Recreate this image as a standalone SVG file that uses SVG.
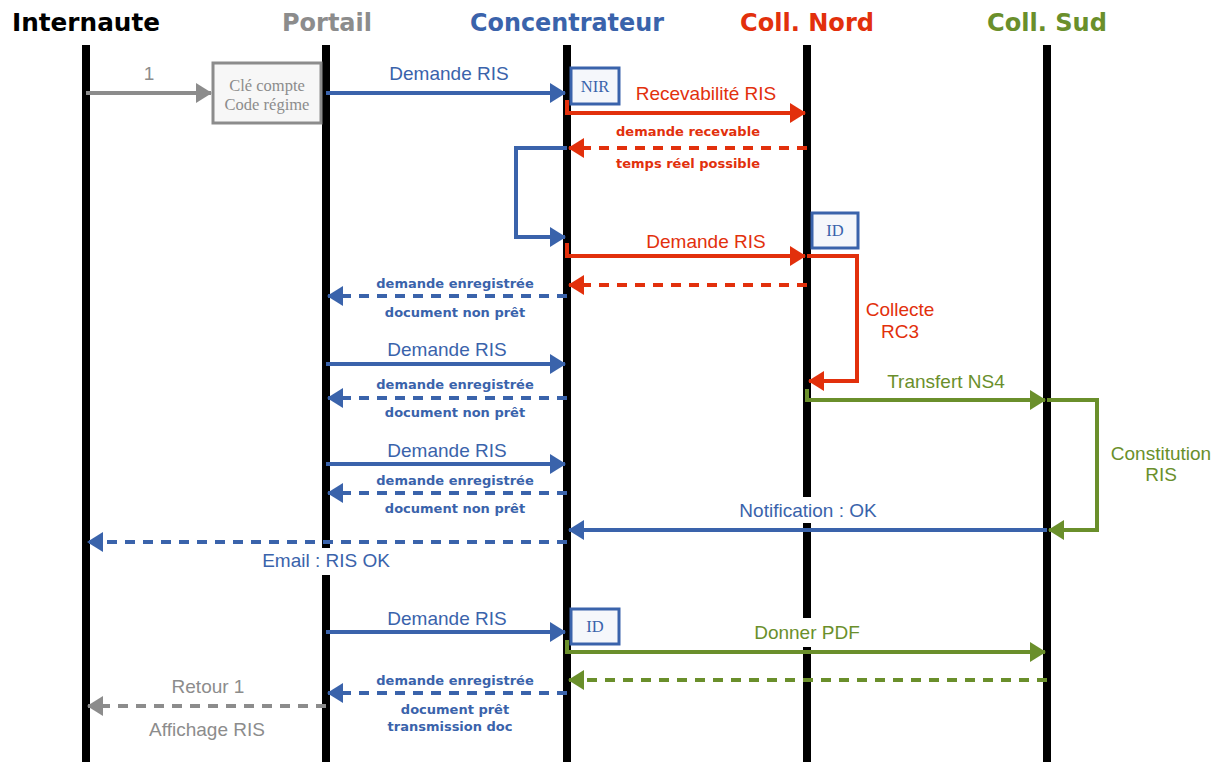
<svg xmlns="http://www.w3.org/2000/svg" width="1225" height="762" viewBox="0 0 1225 762">
<style>
.hdr{font-family:"DejaVu Sans","Verdana",sans-serif;font-weight:bold;font-size:25px;text-anchor:middle}
.lbl{font-family:"Liberation Sans","Arial",sans-serif;font-size:19px;text-anchor:middle}
.sm{font-family:"DejaVu Sans","Verdana",sans-serif;font-weight:bold;font-size:13px;text-anchor:middle}
.ser{font-family:"Liberation Serif","Times New Roman",serif;font-size:16.5px;text-anchor:middle}
.life{stroke:#000;stroke-width:8}
.c{fill:none;stroke-width:4}
.d{stroke-dasharray:10 8}
.blue{stroke:#3a63ab}.red{stroke:#e2300c}.green{stroke:#6a8f2b}.gray{stroke:#8c8c8c}
.tb{fill:#3a63ab}.tr{fill:#e2300c}.tg{fill:#6a8f2b}.tgr{fill:#8c8c8c}
.box{fill:#f5f7fb;stroke:#3a63ab;stroke-width:3}
</style>
<defs>
<marker id="ab" markerUnits="userSpaceOnUse" markerWidth="16" markerHeight="20" refX="15" refY="10" orient="auto"><path d="M0,0 L16,10 L0,20 z" fill="#3a63ab"/></marker>
<marker id="ar" markerUnits="userSpaceOnUse" markerWidth="16" markerHeight="20" refX="15" refY="10" orient="auto"><path d="M0,0 L16,10 L0,20 z" fill="#e2300c"/></marker>
<marker id="ag" markerUnits="userSpaceOnUse" markerWidth="16" markerHeight="20" refX="15" refY="10" orient="auto"><path d="M0,0 L16,10 L0,20 z" fill="#6a8f2b"/></marker>
<marker id="agr" markerUnits="userSpaceOnUse" markerWidth="16" markerHeight="20" refX="15" refY="10" orient="auto"><path d="M0,0 L16,10 L0,20 z" fill="#8c8c8c"/></marker>
</defs>
<rect width="1225" height="762" fill="#fff"/>

<g id="internaute"><text class="hdr" x="86" y="31" fill="#000" textLength="148" lengthAdjust="spacingAndGlyphs">Internaute</text><line class="life" x1="86" y1="45" x2="86" y2="762"/></g>
<g id="portail"><text class="hdr" x="327" y="31" fill="#8c8c8c" textLength="90" lengthAdjust="spacingAndGlyphs">Portail</text><line class="life" x1="326" y1="45" x2="326" y2="762"/></g>
<g id="concentrateur"><text class="hdr" x="567" y="31" fill="#3a63ab" textLength="194" lengthAdjust="spacingAndGlyphs">Concentrateur</text><line class="life" x1="567" y1="45" x2="567" y2="762"/></g>
<g id="collnord"><text class="hdr" x="807" y="31" fill="#e2300c" textLength="134" lengthAdjust="spacingAndGlyphs">Coll. Nord</text><line class="life" x1="807" y1="45" x2="807" y2="762"/></g>
<g id="collsud"><text class="hdr" x="1047" y="31" fill="#6a8f2b" textLength="120" lengthAdjust="spacingAndGlyphs">Coll. Sud</text><line class="life" x1="1047" y1="45" x2="1047" y2="762"/></g>

<!-- label backgrounds that break lifelines -->
<rect x="250" y="548" width="150" height="27" fill="#fff"/>
<rect x="728" y="497" width="160" height="26" fill="#fff"/>
<rect x="750" y="618" width="115" height="29" fill="#fff"/>

<g id="cleCompte"><rect x="213" y="63" width="108" height="60" fill="#f7f7f7" stroke="#8c8c8c" stroke-width="3"/><text class="ser" x="267" y="91" fill="#8c8c8c">Clé compte</text><text class="ser" x="267" y="110" fill="#8c8c8c">Code régime</text></g>
<g id="nir"><rect class="box" x="571" y="68" width="48" height="36"/><text class="ser" x="595" y="92" fill="#3a63ab">NIR</text></g>
<g id="id1"><rect class="box" x="812" y="213" width="46" height="35"/><text class="ser" x="835" y="236" fill="#3a63ab">ID</text></g>
<g id="id2"><rect class="box" x="571" y="609" width="48" height="35"/><text class="ser" x="595" y="632" fill="#3a63ab">ID</text></g>

<g id="connectors">
<line class="c gray" x1="86" y1="93" x2="211" y2="93" marker-end="url(#agr)"/>
<line class="c blue" x1="326" y1="93" x2="565" y2="93" marker-end="url(#ab)"/>
<path class="c red" d="M567,100 V113 H805" marker-end="url(#ar)"/>
<line class="c red d" x1="807" y1="148" x2="569" y2="148" marker-end="url(#ar)"/>
<path class="c blue" d="M567,148 H516 V237 H565" marker-end="url(#ab)"/>
<path class="c red" d="M567,243 V256 H805" marker-end="url(#ar)"/>
<path class="c red" d="M807,256 H857 V381 H809" marker-end="url(#ar)"/>
<line class="c red d" x1="807" y1="285" x2="569" y2="285" marker-end="url(#ar)"/>
<line class="c blue d" x1="567" y1="296" x2="328" y2="296" marker-end="url(#ab)"/>
<line class="c blue" x1="326" y1="364" x2="565" y2="364" marker-end="url(#ab)"/>
<line class="c blue d" x1="567" y1="398" x2="328" y2="398" marker-end="url(#ab)"/>
<path class="c green" d="M807,389 V400 H1045" marker-end="url(#ag)"/>
<path class="c green" d="M1047,400 H1097 V530 H1049" marker-end="url(#ag)"/>
<line class="c blue" x1="326" y1="464" x2="565" y2="464" marker-end="url(#ab)"/>
<line class="c blue d" x1="567" y1="493" x2="328" y2="493" marker-end="url(#ab)"/>
<line class="c blue" x1="1047" y1="530" x2="569" y2="530" marker-end="url(#ab)"/>
<line class="c blue d" x1="567" y1="542" x2="88" y2="542" marker-end="url(#ab)"/>
<line class="c blue" x1="326" y1="632" x2="565" y2="632" marker-end="url(#ab)"/>
<path class="c green" d="M567,640 V652 H1045" marker-end="url(#ag)"/>
<line class="c green d" x1="1047" y1="680" x2="569" y2="680" marker-end="url(#ag)"/>
<line class="c blue d" x1="567" y1="693" x2="328" y2="693" marker-end="url(#ab)"/>
<line class="c gray d" x1="326" y1="706" x2="88" y2="706" marker-end="url(#agr)"/>
</g>

<g id="labels">
<text class="lbl tgr" x="149" y="80">1</text>
<text class="lbl tb" x="449" y="80">Demande RIS</text>
<text class="lbl tr" x="706" y="100">Recevabilité RIS</text>
<text class="sm tr" x="688" y="136">demande recevable</text>
<text class="sm tr" x="688" y="168">temps réel possible</text>
<text class="lbl tr" x="706" y="248">Demande RIS</text>
<text class="lbl tr" x="900" y="316">Collecte</text>
<text class="lbl tr" x="900" y="338">RC3</text>
<text class="sm tb" x="455" y="288">demande enregistrée</text>
<text class="sm tb" x="455" y="317">document non prêt</text>
<text class="lbl tb" x="447" y="356">Demande RIS</text>
<text class="sm tb" x="455" y="389">demande enregistrée</text>
<text class="sm tb" x="455" y="417">document non prêt</text>
<text class="lbl tg" x="946" y="388">Transfert NS4</text>
<text class="lbl tg" x="1161" y="460">Constitution</text>
<text class="lbl tg" x="1161" y="481">RIS</text>
<text class="lbl tb" x="447" y="457">Demande RIS</text>
<text class="sm tb" x="455" y="485">demande enregistrée</text>
<text class="sm tb" x="455" y="513">document non prêt</text>
<text class="lbl tb" x="808" y="517">Notification : OK</text>
<text class="lbl tb" x="326" y="567">Email : RIS OK</text>
<text class="lbl tb" x="447" y="625">Demande RIS</text>
<text class="lbl tg" x="807" y="639">Donner PDF</text>
<text class="sm tb" x="455" y="685">demande enregistrée</text>
<text class="sm tb" x="455" y="714">document prêt</text>
<text class="sm tb" x="450" y="731">transmission doc</text>
<text class="lbl tgr" x="208" y="693">Retour 1</text>
<text class="lbl tgr" x="207" y="736">Affichage RIS</text>
</g>
</svg>
